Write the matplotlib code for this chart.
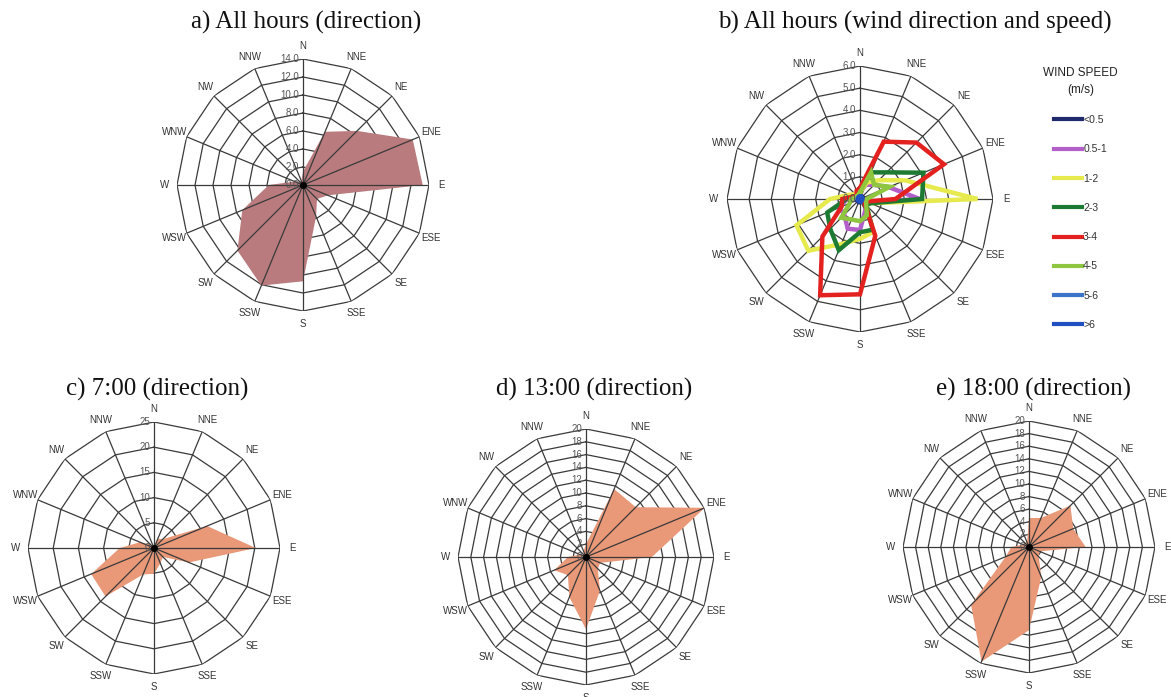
import numpy as np
import matplotlib
matplotlib.use("Agg")
import matplotlib.pyplot as plt

# compass directions, clockwise from north
dirs = ['N', 'NNE', 'NE', 'ENE', 'E', 'ESE', 'SE', 'SSE',
        'S', 'SSW', 'SW', 'WSW', 'W', 'WNW', 'NW', 'NNW']

# frequency (%) per direction
all_hours = [1.5, 6.4, 8.5, 13.2, 13.3, 3.0, 2.2, 3.8,
             10.7, 12.1, 10.3, 7.3, 3.8, 1.0, 0.5, 0.5]
h07 = [0.5, 2.0, 2.5, 11.4, 20.2, 7.5, 2.5, 3.3,
       5.1, 5.7, 13.6, 13.5, 6.8, 3.0, 1.0, 0.5]
h13 = [2.0, 11.5, 11.0, 20.1, 10.3, 2.4, 2.6, 5.7,
       11.3, 6.8, 4.0, 5.4, 2.8, 1.0, 0.5, 1.0]
h18 = [4.6, 5.0, 9.3, 7.6, 9.0, 1.8, 2.2, 5.1,
       13.2, 19.7, 13.0, 4.0, 2.8, 1.0, 1.0, 0.8]

# frequency (%) per direction and speed class
speed_classes = ['<0.5', '0.5-1', '1-2', '2-3', '3-4', '4-5', '5-6', '>6']
speed_colors = ['#1f2a6e', '#b35ec9', '#e6ea4c', '#1d7a32', '#e3211f',
                '#8ec63f', '#3b73c9', '#1f4fc1']
speed_data = [
    [0.15, 0.15, 0.15, 0.15, 0.15, 0.15, 0.15, 0.15, 0.15, 0.15, 0.15, 0.15, 0.15, 0.15, 0.15, 0.15],
    [0.3, 0.7, 0.9, 1.4, 2.7, 0.4, 0.4, 0.6, 1.4, 1.45, 1.0, 1.0, 0.6, 0.3, 0.2, 0.2],
    [0.3, 0.8, 1.2, 2.2, 5.3, 0.5, 0.4, 1.6, 1.8, 2.2, 3.3, 3.1, 1.35, 0.5, 0.3, 0.3],
    [0.4, 1.3, 1.7, 3.1, 2.8, 0.5, 0.4, 1.5, 1.5, 2.5, 1.9, 1.6, 0.6, 0.3, 0.2, 0.3],
    [0.5, 2.8, 3.6, 4.1, 1.6, 0.3, 0.3, 1.8, 4.3, 4.7, 2.4, 0.9, 0.8, 0.3, 0.2, 0.4],
    [0.3, 1.3, 0.9, 1.45, 0.3, 0.3, 0.4, 0.8, 1.0, 1.0, 1.2, 0.5, 0.4, 0.2, 0.2, 0.2],
    [0.1, 0.1, 0.1, 0.1, 0.1, 0.1, 0.1, 0.1, 0.1, 0.1, 0.1, 0.1, 0.1, 0.1, 0.1, 0.1],
    [0.1, 0.12, 0.1, 0.1, 0.1, 0.1, 0.1, 0.12, 0.1, 0.1, 0.1, 0.1, 0.1, 0.1, 0.1, 0.1],
]

W, H = 1171, 697
fig = plt.figure(figsize=(W / 100, H / 100), dpi=100)

theta = np.deg2rad(np.arange(16) * 22.5)
theta_c = np.append(theta, theta[0])
GRID = '#3a3a3a'


def radar(cx, cy, rad, rings, fmt):
    ax = fig.add_axes([(cx - rad) / W, 1 - (cy + rad) / H, 2 * rad / W, 2 * rad / H],
                      projection='polar')
    ax.set_theta_zero_location('N')
    ax.set_theta_direction(-1)
    rmax = rings[-1]
    ax.set_ylim(0, rmax)
    ax.grid(False)
    ax.spines['polar'].set_visible(False)
    ax.set_xticks([])
    ax.set_yticks([])
    ax.patch.set_alpha(0)
    for r in rings[1:]:
        ax.plot(theta_c, [r] * 17, color=GRID, lw=0.9, zorder=1)
    for t in theta:
        ax.plot([t, t], [0, rmax], color=GRID, lw=0.9, zorder=3)
    for r in rings:
        ax.annotate(fmt.format(r), (0, r), xytext=(-3, 0), textcoords='offset points',
                    ha='right', va='center', fontsize=7, color='#555555',
                    family='Liberation Sans', zorder=5)
    for t, d in zip(theta, dirs):
        ax.text(t, rmax * 1.1, d, ha='center', va='center', fontsize=7,
                color='#333333', family='Liberation Sans')
    return ax


def title(x, y, s):
    fig.text(x / W, 1 - y / H, s, ha='center', va='center', fontsize=18,
             family='Liberation Serif', color='#111111')


# a) all hours
ax = radar(303, 185, 126, list(np.arange(0, 14.1, 2.0)), '{:.1f}')
ax.fill(theta_c, all_hours + all_hours[:1], color='#b97b7e', lw=0, zorder=2)
ax.plot(0, 0, 'o', color='black', ms=4, zorder=6)
title(306, 22, 'a) All hours (direction)')

# b) all hours by speed
ax = radar(860, 199, 133, list(np.arange(0, 6.1, 1.0)), '{:.1f}')
for vals, lab, col in zip(speed_data, speed_classes, speed_colors):
    ax.plot(theta_c, vals + vals[:1], color=col, lw=3.2, label=lab, zorder=4,
            solid_joinstyle='miter')
title(915, 22, 'b) All hours (wind direction and speed)')
leg = ax.legend(loc='upper left', bbox_to_anchor=(1034 / W, 1 - 58 / H),
                bbox_transform=fig.transFigure, frameon=False,
                handlelength=2.6, handletextpad=0.15, labelspacing=1.85,
                title='WIND SPEED\n(m/s)', alignment='center',
                title_fontproperties={'size': 8.5, 'family': 'Liberation Sans'},
                prop={'family': 'Liberation Sans', 'size': 7.5})
for ln in leg.get_lines():
    ln.set_linewidth(3)
for t in leg.get_texts():
    t.set_color('#333333')
leg.get_title().set_color('#222222')
leg.get_title().set_multialignment('center')
leg.get_title().set_linespacing(1.5)

# c, d, e) hourly
salmon = '#e99878'
ax = radar(154, 548, 126, list(range(0, 26, 5)), '{:d}')
ax.fill(theta_c, h07 + h07[:1], color=salmon, lw=0, zorder=2)
ax.plot(0, 0, 'o', color='black', ms=4, zorder=6)
title(157, 389, 'c) 7:00 (direction)')

ax = radar(586, 557, 128, list(range(0, 21, 2)), '{:d}')
ax.fill(theta_c, h13 + h13[:1], color=salmon, lw=0, zorder=2)
ax.plot(0, 0, 'o', color='black', ms=4, zorder=6)
title(594, 389, 'd) 13:00 (direction)')

ax = radar(1029, 547, 126, list(range(0, 21, 2)), '{:d}')
ax.fill(theta_c, h18 + h18[:1], color=salmon, lw=0, zorder=2)
ax.plot(0, 0, 'o', color='black', ms=4, zorder=6)
title(1034, 389, 'e) 18:00 (direction)')

fig.savefig('out.png', dpi=100)
